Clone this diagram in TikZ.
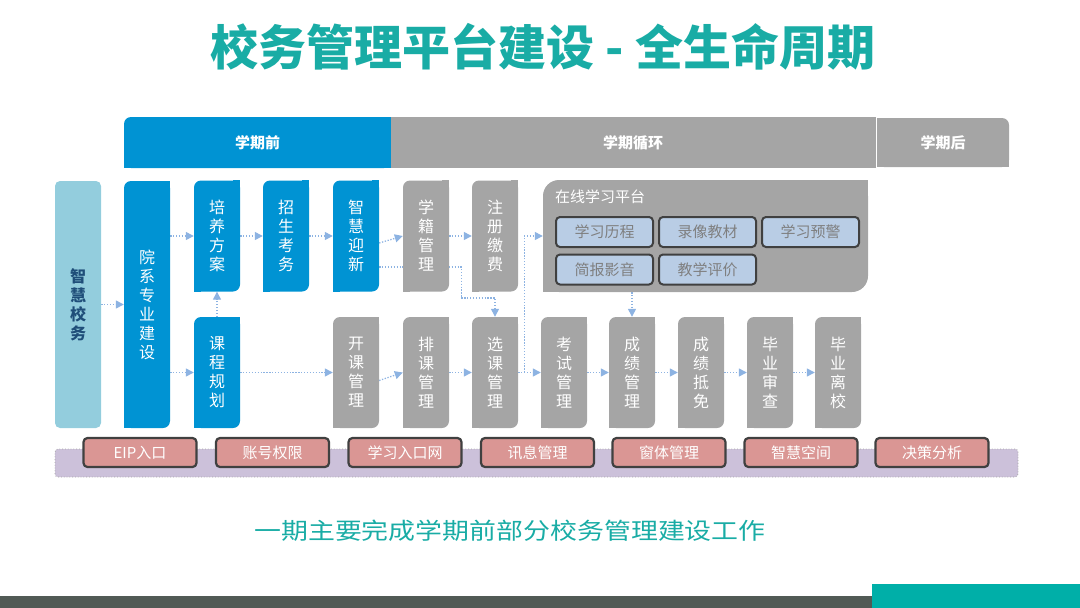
\documentclass[tikz,border=0pt]{standalone}
\usepackage{fontspec}
\setmainfont{Noto Sans CJK SC}
\usetikzlibrary{arrows.meta}
\definecolor{blueA}{HTML}{0093D3}
\definecolor{grayA}{HTML}{A5A5A5}
\definecolor{lblue}{HTML}{93CDDD}
\definecolor{navyT}{HTML}{1F4E79}
\definecolor{tealT}{HTML}{19ACA5}
\definecolor{lav}{HTML}{CCC1DA}
\definecolor{pinkB}{HTML}{DA9694}
\definecolor{dgray}{HTML}{404040}
\definecolor{pblue}{HTML}{B9CDE5}
\definecolor{ptext}{HTML}{7F7F7F}
\definecolor{arr}{HTML}{8DB3E2}
\definecolor{footD}{HTML}{515A55}
\definecolor{footT}{HTML}{00AFA8}
\pgfdeclarelayer{lines}
\pgfsetlayers{lines,main}
% patch two corners so that only top-left and bottom-right stay rounded
\newcommand\sharpen[3]{%
  \fill[#2] (#1.north east) rectangle ([xshift=-#3,yshift=-#3]#1.north east);
  \fill[#2] (#1.south west) rectangle ([xshift=#3,yshift=#3]#1.south west);}
\tikzset{
  vbox/.style={minimum width=46pt, inner sep=0pt, text=white, rounded corners=7pt,
    font=\fontsize{16}{19}\selectfont, align=center},
  bluebox/.style={vbox, fill=blueA},
  graybox/.style={vbox, fill=grayA},
  upbox/.style={minimum height=111pt},
  lowbox/.style={minimum height=111pt},
  hdr/.style={inner sep=0pt, minimum height=51pt, text=white, font=\fontsize{15}{15}\selectfont\bfseries},
  pbox/.style={minimum width=97pt, minimum height=30pt, inner sep=0pt, fill=pblue, draw=dgray,
    line width=2pt, rounded corners=4pt, text=ptext, font=\fontsize{15}{15}\selectfont},
  btn/.style={minimum width=113pt, minimum height=29pt, inner sep=0pt, fill=pinkB, draw=dgray,
    line width=2.2pt, rounded corners=4pt, text=white, font=\fontsize{15}{15}\selectfont},
  conn/.style={draw=arr, line width=1.3pt, dash pattern=on 1.3pt off 1.6pt,
    -{Triangle[length=8pt,width=8pt]}},
}
\begin{document}
\begin{tikzpicture}[x=1pt,y=-1pt]
\useasboundingbox (0,0) rectangle (1080,608);
% title
\node (title) at (543,47) {\fontsize{48}{48}\selectfont\bfseries\color{tealT}校务管理平台建设 - 全生命周期};
% headers
\node[hdr, fill=blueA, minimum width=267pt, rounded corners=7pt] (h1) at (257.5,142.5) {学期前};
\node[hdr, fill=grayA, minimum width=485pt] (h2) at (633,142.5) {学期循环};
\node[hdr, fill=grayA, minimum width=132pt, minimum height=49pt, rounded corners=7pt] (h3) at (943,142.5) {学期后};
\fill[blueA] (h1.north east) rectangle ([xshift=-8pt]h1.south east);
\fill[blueA] (h1.south west) rectangle ([xshift=8pt,yshift=8pt]h1.south west);
\fill[grayA] (h3.north west) rectangle ([xshift=8pt]h3.south west);
\fill[grayA] (h3.south east) rectangle ([xshift=-8pt,yshift=8pt]h3.south east);
% left column
\node[vbox, fill=lblue, minimum height=247pt, rounded corners=5pt, text=navyT,
  font=\fontsize{16}{19}\selectfont\bfseries] (zhxw) at (78,304.5) {智\\慧\\校\\务};
\node[bluebox, minimum height=247pt] (yx) at (147,304.5) {院\\系\\专\\业\\建\\设};
\sharpen{yx}{blueA}{7pt}
% upper row
\node[bluebox, upbox] (pyfa) at (217,236) {培\\养\\方\\案};
\node[bluebox, upbox] (zskw) at (286,236) {招\\生\\考\\务};
\node[bluebox, upbox] (zhyx) at (356,236) {智\\慧\\迎\\新};
\node[graybox, upbox] (xjgl) at (426,236) {学\\籍\\管\\理};
\node[graybox, upbox] (zcjf) at (495,236) {注\\册\\缴\\费};
\sharpen{pyfa}{blueA}{7pt}\sharpen{zskw}{blueA}{7pt}\sharpen{zhyx}{blueA}{7pt}
\sharpen{xjgl}{grayA}{7pt}\sharpen{zcjf}{grayA}{7pt}
% online platform
\node[fill=grayA, minimum width=325pt, minimum height=112pt, inner sep=0pt, rounded corners=16pt] (plat) at (705.5,236) {};
\sharpen{plat}{grayA}{16pt}
\node[anchor=west, inner sep=0pt, text=white, font=\fontsize{15}{15}\selectfont] (platt) at (555,197) {在线学习平台};
\node[pbox] (p1) at (604.5,232) {学习历程};
\node[pbox] (p2) at (707.5,232) {录像教材};
\node[pbox] (p3) at (810.5,232) {学习预警};
\node[pbox] (p4) at (604.5,269.5) {简报影音};
\node[pbox] (p5) at (707.5,269.5) {教学评价};
% lower row
\node[bluebox, lowbox] (kcgh) at (217,372.5) {课\\程\\规\\划};
\node[graybox, lowbox] (kkgl) at (356,372.5) {开\\课\\管\\理};
\node[graybox, lowbox] (pkgl) at (426,372.5) {排\\课\\管\\理};
\node[graybox, lowbox] (xkgl) at (495,372.5) {选\\课\\管\\理};
\node[graybox, lowbox] (ksgl) at (564,372.5) {考\\试\\管\\理};
\node[graybox, lowbox] (cjgl) at (632,372.5) {成\\绩\\管\\理};
\node[graybox, lowbox] (cjdm) at (701,372.5) {成\\绩\\抵\\免};
\node[graybox, lowbox] (bysc) at (770,372.5) {毕\\业\\审\\查};
\node[graybox, lowbox] (bylx) at (838,372.5) {毕\\业\\离\\校};
\sharpen{kcgh}{blueA}{7pt}
\foreach \n in {kkgl,pkgl,xkgl,ksgl,cjgl,cjdm,bysc,bylx}{\sharpen{\n}{grayA}{7pt}}
% bottom band
\node[fill=lav, draw=grayA, line width=0.8pt, dotted, rounded corners=3pt, minimum width=963pt,
  minimum height=28pt, inner sep=0pt] (band) at (536.5,463) {};
\node[btn] (b1) at (140,452.5) {EIP入口};
\node[btn] (b2) at (272.5,452.5) {账号权限};
\node[btn] (b3) at (405,452.5) {学习入口网};
\node[btn] (b4) at (537.5,452.5) {讯息管理};
\node[btn] (b5) at (669,452.5) {窗体管理};
\node[btn] (b6) at (801,452.5) {智慧空间};
\node[btn] (b7) at (932,452.5) {决策分析};
% caption
\node (cap) at (510,531) {\fontsize{23}{23}\selectfont\color{tealT}\scalebox{1.17}[1]{一期主要完成学期前部分校务管理建设工作}};
% footer
\fill[footD] (0,596) rectangle (872,608);
\fill[footT] (872,584) rectangle (1080,608);
% connectors
\begin{pgfonlayer}{lines}
\draw[conn] (zhxw) -- (yx);
\draw[conn] (yx.east |- pyfa.west) -- (pyfa.west);
\draw[conn] (yx.east |- kcgh.west) -- (kcgh.west);
\draw[conn] (kcgh.north) -- (pyfa.south);
\draw[conn] (pyfa) -- (zskw);
\draw[conn] (zskw) -- (zhyx);
\draw[conn] ([yshift=-7pt]zhyx.east) -- (xjgl.west);
\draw[conn] (xjgl) -- (zcjf);
\draw[conn] ([yshift=-31pt]zhyx.east) -- ++(82,0) -- ++(0,31) -| (xkgl.north);
\draw[conn] (kcgh) -- (kkgl);
\draw[conn] ([yshift=-8pt]kkgl.east) -- (pkgl.west);
\draw[conn] (pkgl) -- (xkgl);
\draw[conn] (xkgl) -- (ksgl);
\coordinate (jn) at ([xshift=6pt]xkgl.east);
\draw[conn] (jn) |- (plat.west);
\draw[conn] (cjgl.north |- plat.south) -- (cjgl.north);
\draw[conn] (ksgl) -- (cjgl);
\draw[conn] (cjgl) -- (cjdm);
\draw[conn] (cjdm) -- (bysc);
\draw[conn] (bysc) -- (bylx);
\end{pgfonlayer}
\end{tikzpicture}
\end{document}
